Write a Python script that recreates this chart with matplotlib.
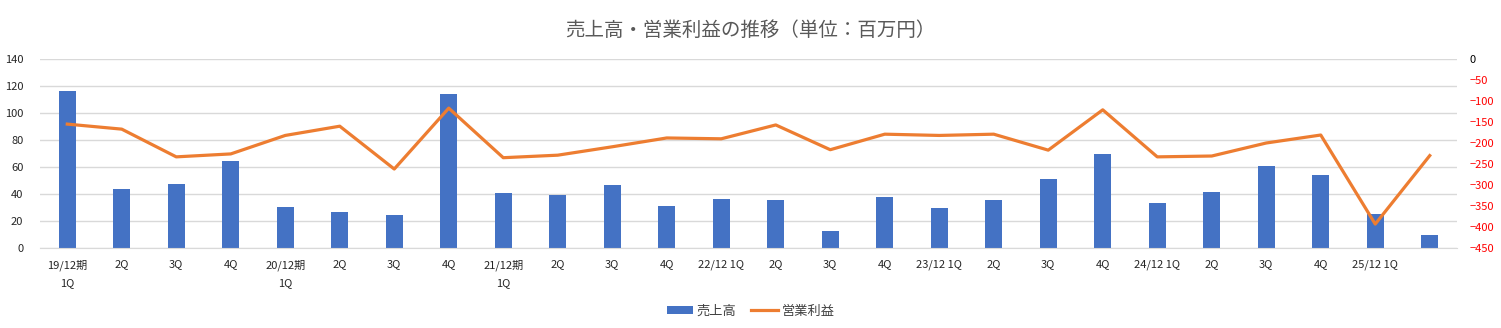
import numpy as np
import matplotlib.pyplot as plt
plt.switch_backend('agg')
plt.rcParams['font.family'] = ['Noto Sans CJK JP', 'DejaVu Sans']

categories = ['19/12期\n1Q', '2Q', '3Q', '4Q',
              '20/12期\n1Q', '2Q', '3Q', '4Q',
              '21/12期\n1Q', '2Q', '3Q', '4Q',
              '22/12 1Q', '2Q', '3Q', '4Q',
              '23/12 1Q', '2Q', '3Q', '4Q',
              '24/12 1Q', '2Q', '3Q', '4Q',
              '25/12 1Q', '']

sales = [116.5, 44.0, 47.7, 64.7, 30.6, 26.9, 24.7, 114.3,
         41.0, 39.5, 46.9, 31.4, 36.5, 35.8, 12.8, 38.0,
         29.9, 35.8, 51.4, 69.9, 33.6, 41.7, 61.0, 54.3,
         25.4, 9.9]

op_income = [-155, -167, -233, -226, -182, -160, -262, -117,
             -235, -229, -209, -188, -190, -157, -216, -179,
             -182, -179, -217, -121, -233, -231, -200, -181,
             -393, -230]

blue = '#4472C4'
orange = '#ED7D31'

fig = plt.figure(figsize=(15.01, 3.28), dpi=100)
ax = fig.add_axes([40 / 1501, 1 - 248 / 328, 1417 / 1501, 189 / 328])
x = np.arange(len(categories))

ax.bar(x, sales, width=0.31, color=blue, label='売上高', zorder=2)
ax.set_xlim(-0.5, len(categories) - 0.5)
ax.set_ylim(0, 140)
ax.set_yticks(range(0, 141, 20))
ax.grid(axis='y', color='#D9D9D9', linewidth=1, zorder=0)
ax.set_xticks(x)
ax.set_xticklabels(categories, fontsize=8, linespacing=1.9, va='top')
ax.tick_params(axis='both', length=0, labelsize=8, colors='#262626')
ax.tick_params(axis='x', pad=8)
ax.tick_params(axis='y', pad=12)
for s in ['top', 'left', 'right']:
    ax.spines[s].set_visible(False)
ax.spines['bottom'].set_color('#D9D9D9')

ax2 = ax.twinx()
ax2.plot(x, op_income, color=orange, linewidth=2.3, label='営業利益', zorder=3)
ax2.set_ylim(-450, 0)
ax2.set_yticks(range(-450, 1, 50))
ax2.tick_params(axis='y', length=0, labelsize=8, pad=9)
for lbl, v in zip(ax2.get_yticklabels(), range(-450, 1, 50)):
    lbl.set_color('black' if v == 0 else 'red')
for s in ax2.spines.values():
    s.set_visible(False)

fig.suptitle('売上高・営業利益の推移（単位：百万円）', y=1 - 30 / 328, va='center',
             fontsize=14, color='#595959')

h1, l1 = ax.get_legend_handles_labels()
h2, l2 = ax2.get_legend_handles_labels()
fig.legend(h1 + h2, l1 + l2, loc='center', bbox_to_anchor=(0.5, 1 - 311 / 328),
           ncol=2, frameon=False, fontsize=9.5, handlelength=2.0, handleheight=0.5,
           columnspacing=1.1, handletextpad=0.3, labelcolor='#404040')

plt.savefig('out.png')
